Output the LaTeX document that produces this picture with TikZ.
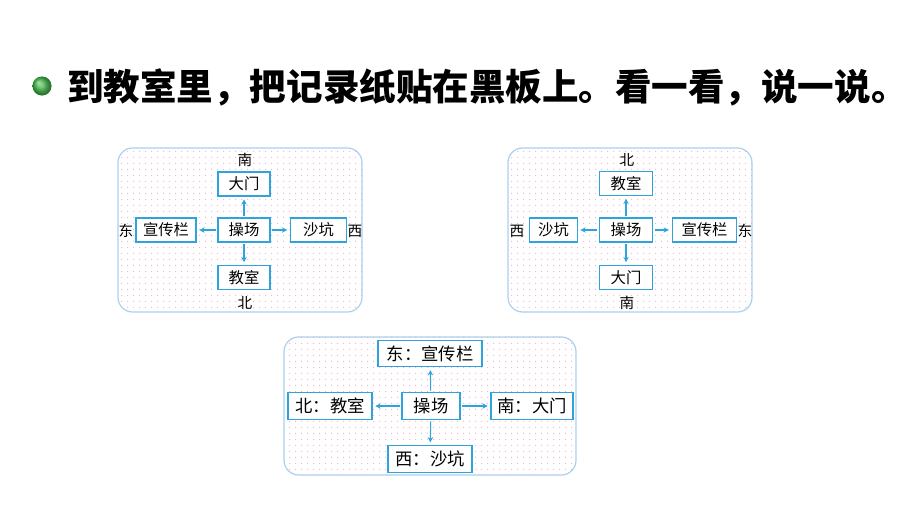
\documentclass[tikz,border=0pt]{standalone}
\usepackage{fontspec}
\setmainfont{Liberation Serif}
\newfontfamily\cjk{Noto Sans CJK SC}
\usetikzlibrary{arrows.meta,patterns.meta}
\definecolor{boxblue}{HTML}{2FA3DB}
\definecolor{panelblue}{HTML}{A9D0EE}
\definecolor{dotpink}{HTML}{EE9CC4}
\definecolor{ballgreen}{HTML}{2E9E34}
\tikzdeclarepattern{name=pinkdots, type=colored, bounding box={(0,0) and (4.5pt,4.5pt)}, tile size={(4.5pt,4.5pt)}, code={\fill[dotpink] (1.5pt,1.5pt) circle (0.45pt);}}
\tikzset{
  panel/.style={draw=panelblue, line width=0.9pt, rounded corners=11pt, fill=white},
  panelfill/.style={pattern={pinkdots}},
  placebox/.style={draw=boxblue, line width=0.9pt, fill=white, minimum height=18pt, inner sep=0pt, font=\cjk\fontsize{11.5pt}{12pt}\selectfont},
  bigbox/.style={draw=boxblue, line width=0.9pt, fill=white, minimum height=20pt, inner sep=0pt, font=\cjk\fontsize{13pt}{14pt}\selectfont},
  dirlabel/.style={inner sep=0pt, font=\cjk\fontsize{11pt}{12pt}\selectfont},
  link/.style={boxblue, line width=0.8pt, -{Stealth[length=4pt,width=4pt]}, shorten >=2pt, shorten <=1pt},
}
\begin{document}
\begin{tikzpicture}[x=0.75pt,y=-0.75pt]
\useasboundingbox (0,0) rectangle (920,518);
\fill[white] (0,0) rectangle (920,518);
% title
\shade[inner color=green!25!white, outer color=ballgreen, shading=radial] (42,86) circle (9.5);
\shade[ball color=ballgreen, opacity=0.55] (42,86) circle (9.5);
\node[anchor=west, inner sep=0pt, font=\cjk\bfseries\fontsize{27.4pt}{29pt}\selectfont] (title) at (67,87) {到教室里，把记录纸贴在黑板上。看一看，说一说。};
% panel 1
\draw[panel] (118,148) rectangle (362,312);
\fill[panelfill, rounded corners=11pt] (118,148) rectangle (362,312);
\node[placebox, minimum width=39pt] (a1) at (244,184) {大门};
\node[placebox, minimum width=39pt] (c1) at (244,230) {操场};
\node[placebox, minimum width=45pt] (l1) at (166,230) {宣传栏};
\node[placebox, minimum width=42pt] (r1) at (318.5,230) {沙坑};
\node[placebox, minimum width=39pt] (b1) at (244,277.5) {教室};
\node[dirlabel] (n1) at (245,160) {南};
\node[dirlabel] (s1) at (245,303) {北};
\node[dirlabel] (w1) at (126,231) {东};
\node[dirlabel] (e1) at (355,231) {西};
\draw[link] (c1) -- (a1);
\draw[link] (c1) -- (b1);
\draw[link] (c1) -- (l1);
\draw[link] (c1) -- (r1);
% panel 2
\draw[panel] (508,148) rectangle (752,312);
\fill[panelfill, rounded corners=11pt] (508,148) rectangle (752,312);
\node[placebox, minimum width=40pt] (a2) at (626,183.5) {教室};
\node[placebox, minimum width=40pt] (c2) at (626,230) {操场};
\node[placebox, minimum width=35.5pt] (l2) at (553.5,230) {沙坑};
\node[placebox, minimum width=48.5pt] (r2) at (704.5,230) {宣传栏};
\node[placebox, minimum width=40pt] (b2) at (626,277.5) {大门};
\node[dirlabel] (n2) at (627,160) {北};
\node[dirlabel] (s2) at (627,303) {南};
\node[dirlabel] (w2) at (517,231) {西};
\node[dirlabel] (e2) at (745,231) {东};
\draw[link] (c2) -- (a2);
\draw[link] (c2) -- (b2);
\draw[link] (c2) -- (l2);
\draw[link] (c2) -- (r2);
% panel 3
\draw[panel] (284,337) rectangle (576,475);
\fill[panelfill, rounded corners=11pt] (284,337) rectangle (576,475);
\node[bigbox, minimum width=78pt] (a3) at (430,353.5) {东：宣传栏};
\node[bigbox, minimum width=43.5pt] (c3) at (431,406) {操场};
\node[bigbox, minimum width=63pt] (l3) at (330,406) {北：教室};
\node[bigbox, minimum width=61.5pt] (r3) at (532,406) {南：大门};
\node[bigbox, minimum width=63pt] (b3) at (430,459) {西：沙坑};
\draw[link] (c3) -- (a3);
\draw[link] (c3) -- (b3);
\draw[link] (c3) -- (l3);
\draw[link] (c3) -- (r3);
\end{tikzpicture}
\end{document}
